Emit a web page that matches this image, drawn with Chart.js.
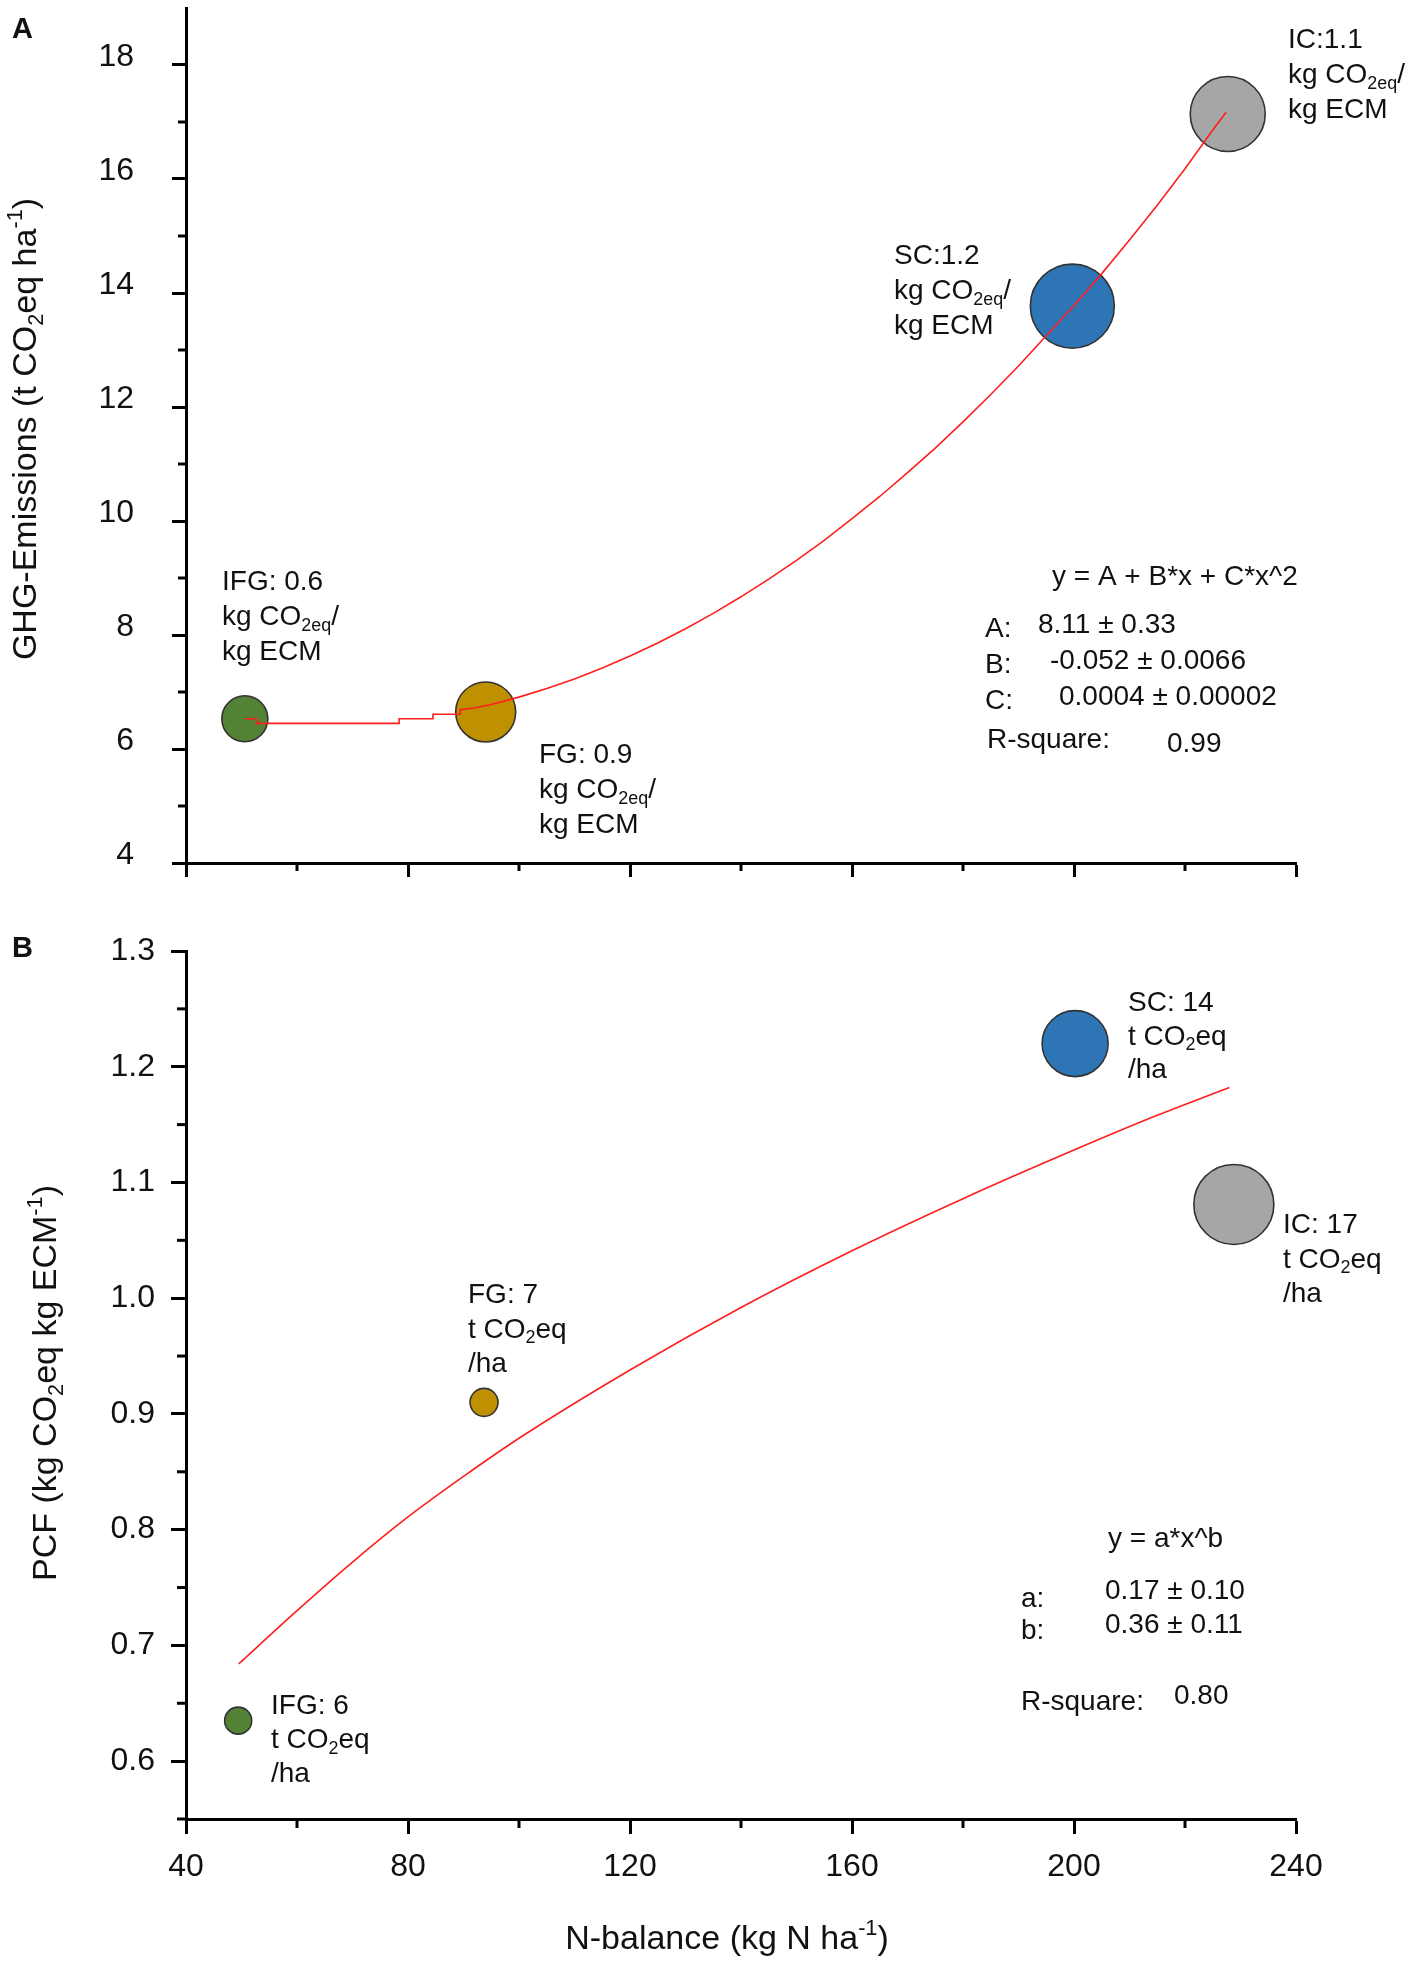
<!DOCTYPE html>
<html><head><meta charset="utf-8">
<script src="https://cdn.jsdelivr.net/npm/chart.js@4.4.1/dist/chart.umd.min.js"></script>
<style>
html,body{margin:0;padding:0;background:#fff;}
#wrap{position:relative;width:1417px;height:1964px;overflow:hidden;}
#cA{position:absolute;left:0;top:0;}
#cB{position:absolute;left:0;top:900px;}
</style></head><body>
<div id="wrap">
<canvas id="cA" width="1417" height="900"></canvas>
<canvas id="cB" width="1417" height="1064"></canvas>
</div>
<script>
// ---------------- DATA ----------------
const groups = ['IFG', 'FG', 'SC', 'IC'];
// Panel A: N-balance vs GHG emissions
const nBalanceA = [50.6, 94.0, 199.7, 227.7];
const ghgA = [6.53, 6.65, 13.77, 17.14];
const bubbleSizeA = [23, 30, 42, 37.5];
// Panel B: N-balance vs PCF
const nBalanceB = [49.4, 93.7, 200.2, 228.8];
const pcfB = [0.635, 0.910, 1.220, 1.081];
const bubbleSizeB = [13.5, 14, 33, 40];
// fitted curves
const fitAx = [50.6, 52.7, 52.7, 78.4, 78.4, 84.5, 84.5, 89.4, 89.4, 92, 95, 100, 105, 110, 115, 120, 125, 130, 135, 140, 145, 150, 155, 160, 165, 170, 175, 180, 185, 190, 195, 200, 205, 210, 215, 220, 225, 227.4];
const fitAy = [6.53, 6.53, 6.45, 6.45, 6.53, 6.53, 6.61, 6.61, 6.69, 6.72, 6.78, 6.91, 7.06, 7.23, 7.42, 7.63, 7.86, 8.11, 8.38, 8.67, 8.98, 9.31, 9.66, 10.04, 10.43, 10.85, 11.28, 11.74, 12.22, 12.72, 13.25, 13.78, 14.34, 14.93, 15.54, 16.18, 16.86, 17.17];
const fitBx = [49.5, 60, 70, 80, 90, 100, 120, 140, 160, 180, 200, 215, 228];
const fitBy = [0.684, 0.730, 0.772, 0.811, 0.846, 0.879, 0.938, 0.992, 1.041, 1.086, 1.128, 1.158, 1.182];
// axis ticks
const xTicks = [40, 80, 120, 160, 200, 240];
const xMinorTicks = [60, 100, 140, 180, 220];
const yTicksA = [4, 6, 8, 10, 12, 14, 16, 18];
const yMinorTicksA = [5, 7, 9, 11, 13, 15, 17];
const yTicksB = [0.6, 0.7, 0.8, 0.9, 1.0, 1.1, 1.2, 1.3];
const yTickLabelsB = ['0.6', '0.7', '0.8', '0.9', '1.0', '1.1', '1.2', '1.3'];
const yMinorTicksB = [0.55, 0.65, 0.75, 0.85, 0.95, 1.05, 1.15, 1.25];
// texts
const labelsA = [
  ['IFG: 0.6', 'kg CO_{2eq}/', 'kg ECM'],
  ['FG: 0.9', 'kg CO_{2eq}/', 'kg ECM'],
  ['SC:1.2', 'kg CO_{2eq}/', 'kg ECM'],
  ['IC:1.1', 'kg CO_{2eq}/', 'kg ECM']
];
const labelsB = [
  ['IFG: 6', 't CO_{2}eq', '/ha'],
  ['FG: 7', 't CO_{2}eq', '/ha'],
  ['SC: 14', 't CO_{2}eq', '/ha'],
  ['IC: 17', 't CO_{2}eq', '/ha']
];
const fitTextA = ['y = A + B*x + C*x^2', 'A:', '8.11 \u00b1 0.33', 'B:', '-0.052 \u00b1 0.0066', 'C:', '0.0004 \u00b1 0.00002', 'R-square:', '0.99'];
const fitTextB = ['y = a*x^b', 'a:', '0.17 \u00b1 0.10', 'b:', '0.36 \u00b1 0.11', 'R-square:', '0.80'];
const titleYA = 'GHG-Emissions (t CO_{2}eq ha^{-1})';
const titleYB = 'PCF (kg CO_{2}eq kg ECM^{-1})';
const titleX = 'N-balance (kg N ha^{-1})';

// ---------------- STYLE ----------------
const FONT = "'Liberation Sans', Arial, Helvetica, sans-serif";
const groupColors = ['#548235', '#BF9000', '#2E75B6', '#A6A6A6'];
const FIT_COLOR = 'rgb(255,30,30)';

// ---------------- rich text helpers ----------------
function parseRich(s) {
  const out = []; const re = /([_^])\{([^}]*)\}/g; let last = 0, m;
  while ((m = re.exec(s))) {
    if (m.index > last) out.push({ t: s.slice(last, m.index), k: 'n' });
    out.push({ t: m[2], k: m[1] === '_' ? 'sub' : 'sup' });
    last = re.lastIndex;
  }
  if (last < s.length) out.push({ t: s.slice(last), k: 'n' });
  return out;
}
function fontStr(size, weight) { return (weight || 'normal') + ' ' + size + 'px ' + FONT; }
function drawRich(ctx, s, x, y, size, weight, align) {
  const segs = parseRich(s);
  let w = 0;
  for (const g of segs) { ctx.font = fontStr(g.k === 'n' ? size : size * 0.64, weight); w += ctx.measureText(g.t).width; }
  let cx = align === 'center' ? x - w / 2 : x;
  ctx.textAlign = 'left'; ctx.textBaseline = 'alphabetic';
  for (const g of segs) {
    const fs = g.k === 'n' ? size : size * 0.64;
    const dy = g.k === 'sub' ? size * 0.2 : (g.k === 'sup' ? -size * 0.4 : 0);
    ctx.font = fontStr(fs, weight);
    ctx.fillText(g.t, cx, y + dy);
    cx += ctx.measureText(g.t).width;
  }
}

// ---------------- plugins ----------------
const minorTicksPlugin = {
  id: 'minorTicks',
  afterDraw(chart, args, o) {
    const ctx = chart.ctx, ca = chart.chartArea, xs = chart.scales.x, ys = chart.scales.y;
    ctx.save(); ctx.strokeStyle = '#000'; ctx.lineWidth = o.width; ctx.lineCap = 'butt';
    for (const v of o.xValues) {
      const px = xs.getPixelForValue(v);
      ctx.beginPath(); ctx.moveTo(px, ca.bottom); ctx.lineTo(px, ca.bottom + o.len); ctx.stroke();
    }
    for (const v of o.yValues) {
      const py = ys.getPixelForValue(v);
      ctx.beginPath(); ctx.moveTo(ca.left, py); ctx.lineTo(ca.left - o.len, py); ctx.stroke();
    }
    ctx.restore();
  }
};
const textPlugin = {
  id: 'texts',
  afterDraw(chart, args, o) {
    const ctx = chart.ctx; ctx.save(); ctx.fillStyle = '#111';
    for (const it of o.items) {
      const lines = Array.isArray(it.text) ? it.text : [it.text];
      lines.forEach((ln, i) => drawRich(ctx, ln, it.x, it.y + i * (it.lh || 0), it.size, it.weight, it.align));
    }
    for (const t of o.rotated || []) {
      ctx.save(); ctx.translate(t.x, t.y); ctx.rotate(-Math.PI / 2);
      drawRich(ctx, t.text, 0, 0, t.size, t.weight, 'center');
      ctx.restore();
    }
    ctx.restore();
  }
};

function pts(xs, ys) { return xs.map((x, i) => ({ x: x, y: ys[i] })); }
function bubblePts(xs, ys, rs) { return xs.map((x, i) => ({ x: x, y: ys[i], r: rs[i] })); }

function makeScales(cfg) {
  return {
    x: {
      type: 'linear', min: 40, max: 240,
      afterBuildTicks: s => { s.ticks = xTicks.map(v => ({ value: v })); },
      afterFit: s => { s.height = cfg.xHeight; s.paddingLeft = 0; s.paddingRight = 0; },
      border: { display: true, color: '#000', width: 3 },
      grid: { display: true, drawOnChartArea: false, drawTicks: true, tickLength: cfg.xTickLen, tickWidth: 3, tickColor: '#000' },
      ticks: {
        display: cfg.xLabels, padding: cfg.xPad, color: '#111', maxRotation: 0, autoSkip: false,
        font: { family: FONT, size: 32 },
        callback: v => String(v)
      }
    },
    y: {
      type: 'linear', min: cfg.yMin, max: cfg.yMax,
      afterBuildTicks: s => { s.ticks = cfg.yTicks.map(v => ({ value: v })); },
      afterFit: s => { s.width = 186; s.paddingTop = 0; s.paddingBottom = 0; },
      border: { display: true, color: '#000', width: 3 },
      grid: { display: true, drawOnChartArea: false, drawTicks: true, tickLength: cfg.yTickLen, tickWidth: 3, tickColor: '#000' },
      ticks: {
        padding: cfg.yPad, color: '#111', autoSkip: false, labelOffset: cfg.yLabelOffset,
        font: { family: FONT, size: 32 },
        callback: (v, i) => cfg.yLabels[i]
      }
    }
  };
}

Chart.defaults.font.family = FONT;

// ---------------- Panel A ----------------
new Chart(document.getElementById('cA'), {
  type: 'bubble',
  data: {
    datasets: [
      { type: 'line', data: pts(fitAx, fitAy), borderColor: FIT_COLOR, borderWidth: 1.6, pointRadius: 0, tension: 0, fill: false },
      { type: 'bubble', data: bubblePts(nBalanceA, ghgA, bubbleSizeA), backgroundColor: groupColors, borderColor: '#333', borderWidth: 1.6 }
    ]
  },
  options: {
    responsive: false, animation: false, events: [],
    layout: { autoPadding: false, padding: { top: 8, right: 121, left: 0, bottom: 0 } },
    scales: makeScales({ xHeight: 37, xLabels: false, xPad: 8, xTickLen: 14, yTickLen: 14, yMin: 4, yMax: 19, yTicks: yTicksA, yLabels: yTicksA.map(String), yPad: 38, yLabelOffset: -8 }),
    plugins: {
      legend: { display: false }, tooltip: { enabled: false },
      minorTicks: { xValues: xMinorTicks, yValues: yMinorTicksA, len: 8, width: 3 },
      texts: {
        items: [
          { text: 'A', x: 12, y: 38, size: 29, weight: 'bold' },
          { text: labelsA[0], x: 222, y: 590, lh: 35, size: 28 },
          { text: labelsA[1], x: 539, y: 763, lh: 35, size: 28 },
          { text: labelsA[2], x: 894, y: 264, lh: 35, size: 28 },
          { text: labelsA[3], x: 1288, y: 48, lh: 35, size: 28 },
          { text: fitTextA[0], x: 1052, y: 585, size: 28 },
          { text: fitTextA[1], x: 985, y: 637, size: 28 },
          { text: fitTextA[2], x: 1038, y: 633, size: 28 },
          { text: fitTextA[3], x: 985, y: 673, size: 28 },
          { text: fitTextA[4], x: 1050, y: 669, size: 28 },
          { text: fitTextA[5], x: 985, y: 709, size: 28 },
          { text: fitTextA[6], x: 1059, y: 705, size: 28 },
          { text: fitTextA[7], x: 987, y: 748, size: 28 },
          { text: fitTextA[8], x: 1167, y: 752, size: 28 }
        ],
        rotated: [{ text: titleYA, x: 36, y: 429, size: 34 }]
      }
    }
  },
  plugins: [minorTicksPlugin, textPlugin]
});

// ---------------- Panel B ----------------
new Chart(document.getElementById('cB'), {
  type: 'bubble',
  data: {
    datasets: [
      { type: 'line', data: pts(fitBx, fitBy), borderColor: FIT_COLOR, borderWidth: 1.6, pointRadius: 0, cubicInterpolationMode: 'monotone', fill: false },
      { type: 'bubble', data: bubblePts(nBalanceB, pcfB, bubbleSizeB), backgroundColor: groupColors, borderColor: '#333', borderWidth: 1.6 }
    ]
  },
  options: {
    responsive: false, animation: false, events: [],
    layout: { autoPadding: false, padding: { top: 51, right: 121, left: 0, bottom: 0 } },
    scales: makeScales({ xHeight: 145, xLabels: true, xPad: 14, xTickLen: 15, yTickLen: 15, yMin: 0.55, yMax: 1.3, yTicks: yTicksB, yLabels: yTickLabelsB, yPad: 16, yLabelOffset: 0 }),
    plugins: {
      legend: { display: false }, tooltip: { enabled: false },
      minorTicks: { xValues: xMinorTicks, yValues: yMinorTicksB, len: 9, width: 3 },
      texts: {
        items: [
          { text: 'B', x: 12, y: 57, size: 29, weight: 'bold' },
          { text: labelsB[0], x: 271, y: 814, lh: 34, size: 28 },
          { text: labelsB[1], x: 468, y: 403, lh: 34.5, size: 28 },
          { text: labelsB[2], x: 1128, y: 111, lh: 33.5, size: 28 },
          { text: labelsB[3], x: 1283, y: 333, lh: 34.5, size: 28 },
          { text: fitTextB[0], x: 1108, y: 647, size: 28 },
          { text: fitTextB[1], x: 1021, y: 707, size: 28 },
          { text: fitTextB[2], x: 1105, y: 699, size: 28 },
          { text: fitTextB[3], x: 1021, y: 739, size: 28 },
          { text: fitTextB[4], x: 1105, y: 733, size: 28 },
          { text: fitTextB[5], x: 1021, y: 810, size: 28 },
          { text: fitTextB[6], x: 1174, y: 804, size: 28 },
          { text: titleX, x: 727, y: 1049, size: 34, align: 'center' }
        ],
        rotated: [{ text: titleYB, x: 56, y: 483, size: 34 }]
      }
    }
  },
  plugins: [minorTicksPlugin, textPlugin]
});
</script>
</body></html>
